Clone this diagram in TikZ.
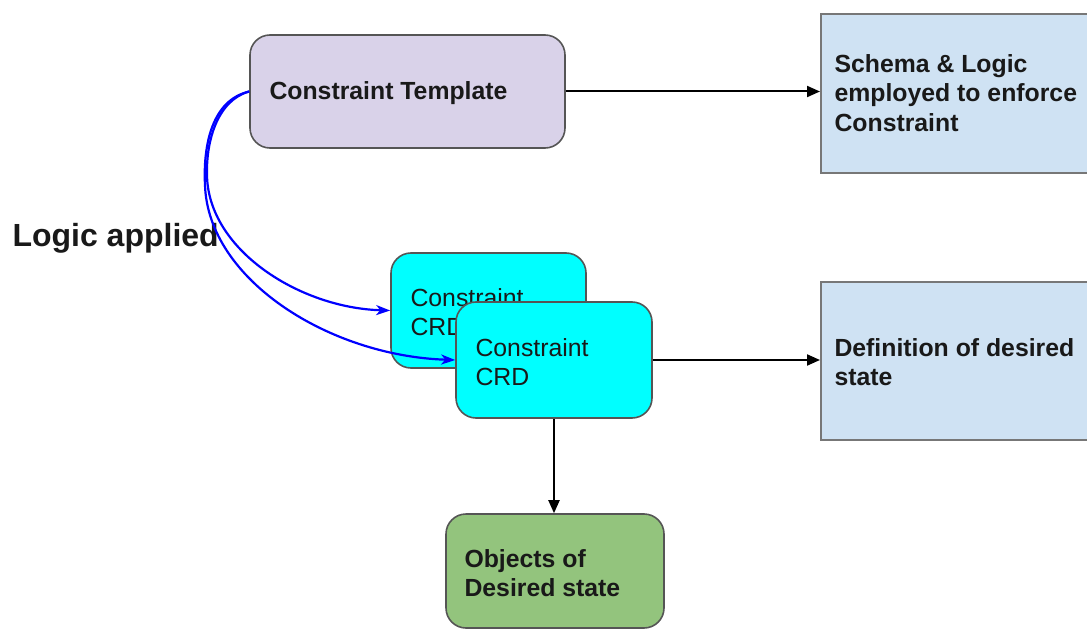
\documentclass[tikz,border=0pt]{standalone}
\usepackage{fontspec}
\setmainfont{Liberation Sans}
\usetikzlibrary{arrows.meta}
\definecolor{tmpl}{HTML}{D9D2E9}
\definecolor{info}{HTML}{CFE2F3}
\definecolor{crd}{HTML}{00FFFF}
\definecolor{objs}{HTML}{93C47D}
\definecolor{edge}{HTML}{555555}
\begin{document}
\begin{tikzpicture}[x=1pt,y=-1pt,
  box/.style={draw=edge, line width=1.6pt, rounded corners=20pt, inner sep=0pt},
  sq/.style={draw=edge!80, line width=2pt, inner sep=0pt},
  lbl/.style={anchor=west, align=left, font=\fontsize{24.8}{29.5}\selectfont\bfseries, text=black!90},
  lblr/.style={anchor=west, align=left, font=\fontsize{24.8}{29.5}\selectfont, text=black!90},
  arr/.style={-{Triangle[length=13pt,width=11pt]}, line width=2pt, black},
  barr/.style={-{Stealth[length=14pt,width=10pt,inset=4pt]}, line width=2.2pt, blue}]
\useasboundingbox (0,0) rectangle (1087,631);
% boxes
\node[box, fill=tmpl, minimum width=315pt, minimum height=113pt] (tmpl) at (407.5,91.5) {};
\node[lbl] (tmplt) at (266,93) {Constraint Template};
\node[sq, fill=info, minimum width=280pt, minimum height=159pt, anchor=north west] (schema) at (820,13) {};
\node[lbl] (schemat) at (831,93) {Schema \& Logic\\employed to enforce\\Constraint};
\node[box, fill=crd, minimum width=195pt, minimum height=115pt] (crd1) at (488.5,310.5) {};
\node[lblr] (crd1t) at (407,312) {Constraint\\CRD};
\node[box, fill=crd, minimum width=196pt, minimum height=116pt] (crd2) at (554,360) {};
\node[lblr] (crd2t) at (472,362) {Constraint\\CRD};
\node[sq, fill=info, minimum width=280pt, minimum height=158pt, anchor=north west] (defn) at (820,281) {};
\node[lbl] (defnt) at (831,362) {Definition of desired\\state};
\node[box, fill=objs, minimum width=218pt, minimum height=114pt] (objs) at (555,571) {};
\node[lbl] (objst) at (461,573) {Objects of\\Desired state};
\node[anchor=west, font=\fontsize{32}{36}\selectfont\bfseries, text=black!90] (logic) at (9,238) {Logic applied};
% connectors
\draw[arr] (tmpl.east) -- (schema.west |- tmpl.east);
\draw[arr] (crd2.east) -- (defn.west |- crd2.east);
\draw[arr] (crd2.south) -- (objs.north -| crd2.south);
\draw[barr] (tmpl.west) .. controls (218,100) and (206,140) .. (207,175)
  .. controls (208,250) and (300,308) .. (crd1.west);
\draw[barr] (tmpl.west) .. controls (212,100) and (203,145) .. (205,185)
  .. controls (208,280) and (330,356) .. (crd2.west);
\end{tikzpicture}
\end{document}
